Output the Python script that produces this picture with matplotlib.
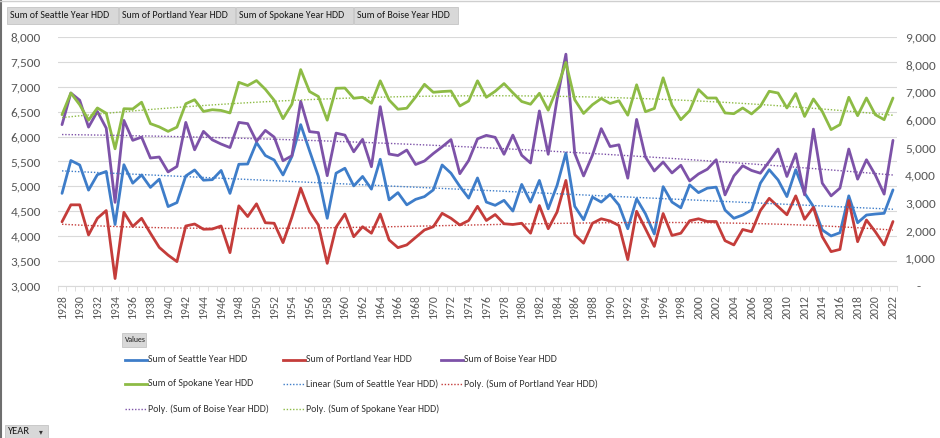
import numpy as np
import matplotlib
matplotlib.use("Agg")
import matplotlib.pyplot as plt
from matplotlib import font_manager
from matplotlib.lines import Line2D
from matplotlib.patches import Rectangle
from matplotlib.ticker import FuncFormatter, MultipleLocator

years = np.arange(1928, 2023)

seattle = [4860, 5520, 5430, 4925, 5235, 5300, 4235, 5435, 5065, 5230,
           4980, 5145, 4595, 4675, 5210, 5330, 5125, 5135, 5320, 4860,
           5445, 5450, 5880, 5620, 5530, 5230, 5600, 6240, 5715, 5200,
           4360, 5265, 5365, 5010, 5200, 4945, 5545, 4730, 4875, 4630,
           4740, 4795, 4930, 5430, 5265, 5000, 4765, 5170, 4685, 4620,
           4720, 4505, 5040, 4685, 5120, 4550, 5020, 5670, 4600, 4330,
           4785, 4685, 4840, 4625, 4150, 4750, 4450, 4045, 4995, 4685,
           4570, 5030, 4875, 4965, 4985, 4525, 4360, 4425, 4525, 5065,
           5335, 5130, 4795, 5335, 4865, 4595, 4125, 4005, 4070, 4810,
           4270, 4425, 4445, 4460, 4930]

portland = [4290, 4630, 4630, 4025, 4360, 4515, 3150, 4480, 4195, 4360,
            4060, 3775, 3620, 3490, 4205, 4245, 4140, 4145, 4205, 3670,
            4610, 4395, 4650, 4270, 4260, 3870, 4380, 4965, 4495, 4225,
            3455, 4180, 4445, 3990, 4190, 4060, 4445, 3925, 3770, 3825,
            3975, 4125, 4190, 4460, 4360, 4225, 4315, 4600, 4315, 4435,
            4250, 4235, 4260, 4060, 4615, 4150, 4485, 5120, 4030, 3860,
            4260, 4350, 4305, 4215, 3530, 4500, 4150, 3795, 4455, 4015,
            4060, 4310, 4350, 4295, 4295, 3910, 3825, 4135, 4090, 4515,
            4760, 4595, 4430, 4810, 4340, 4580, 3990, 3690, 3735, 4715,
            3890, 4325, 4090, 3825, 4295]

boise = [6240, 6875, 6730, 6190, 6505, 6170, 4680, 6325, 5925, 5990,
         5570, 5590, 5290, 5400, 6285, 5735, 6105, 5935, 5850, 5780,
         6285, 6260, 5905, 6125, 5990, 5515, 5615, 6710, 6100, 6080,
         5215, 6070, 6030, 5695, 5945, 5395, 6600, 5650, 5620, 5730,
         5440, 5510, 5660, 5795, 5940, 5255, 5520, 5955, 6025, 5985,
         5645, 6030, 5625, 5470, 6515, 5645, 6750, 7655, 5665, 5210,
         5625, 6160, 5800, 5835, 5165, 6345, 5590, 5310, 5490, 5270,
         5425, 5110, 5250, 5345, 5535, 4830, 5210, 5415, 5320, 5265,
         5500, 5750, 5200, 5655, 4830, 6150, 5065, 4810, 4965, 5750,
         5145, 5535, 5230, 4845, 5925]

spokane = [6440, 6875, 6640, 6330, 6575, 6470, 5755, 6560, 6555, 6690,
           6260, 6195, 6105, 6190, 6660, 6740, 6505, 6540, 6525, 6475,
           7090, 7025, 7125, 6950, 6730, 6360, 6650, 7345, 6905, 6805,
           6330, 6970, 6975, 6770, 6790, 6670, 7120, 6735, 6550, 6570,
           6795, 7050, 6890, 6905, 6915, 6615, 6715, 7120, 6790, 6910,
           7065, 6880, 6705, 6650, 6870, 6530, 6965, 7490, 6740, 6465,
           6640, 6765, 6665, 6720, 6430, 7040, 6500, 6565, 7180, 6630,
           6340, 6520, 6945, 6775, 6775, 6475, 6460, 6575, 6455, 6610,
           6910, 6875, 6575, 6865, 6405, 6755, 6505, 6140, 6240, 6790,
           6420, 6775, 6440, 6340, 6775]

# series order as in the pivot chart, with trendline type
cities = ["Seattle", "Portland", "Boise", "Spokane"]
values = [seattle, portland, boise, spokane]
colors = ["#3E7DC9", "#C43C3A", "#7D52A8", "#8DBB45"]
trend_order = [1, 3, 2, 2]
field_buttons = ["Seattle", "Portland", "Spokane", "Boise"]

# pick a font close to Calibri if one is around
installed = {f.name for f in font_manager.fontManager.ttflist}
FONT, K = "Lato", 0.74
for fam, k in [("Carlito", 1.0), ("Liberation Sans Narrow", 0.95)]:
    if fam in installed:
        FONT, K = fam, k
        break
plt.rcParams["font.family"] = [FONT, "DejaVu Sans"]

W, H = 940, 438
fig = plt.figure(figsize=(W / 100, H / 100), dpi=100)


def fx(px):
    return px / W


def fy(py):
    return 1 - py / H


ax = fig.add_axes([fx(57.6), fy(286), fx(897.4 - 57.6), (286 - 37) / H])

for city, vals, col in zip(cities, values, colors):
    ax.plot(years, vals, color=col, lw=2.0, solid_joinstyle="round",
            solid_capstyle="round", zorder=3)

trend_labels = []
for city, vals, col, order in zip(cities, values, colors, trend_order):
    coef = np.polyfit(years - 1975, vals, order)
    ax.plot(years, np.polyval(coef, years - 1975), color=col, lw=1.0,
            linestyle=(0, (1, 1.3)), zorder=4)
    kind = "Linear" if order == 1 else "Poly."
    trend_labels.append(f"{kind} (Sum of {city} Year HDD)")

ax.set_xlim(1927.5, 2022.5)
ax.set_ylim(3000, 8000)
ax.yaxis.set_major_locator(MultipleLocator(500))
ax.yaxis.set_major_formatter(FuncFormatter(lambda v, p: f"{v:,.0f}"))
ax.grid(axis="y", color="#D9D9D9", lw=0.8, zorder=0)
ax.set_axisbelow(True)
for s in ["top", "right", "left"]:
    ax.spines[s].set_visible(False)
ax.spines["bottom"].set_color("#D9D9D9")

ax.set_xticks(years[::2])
ax.set_xticklabels([str(y) for y in years[::2]], rotation=90)
ax.set_xticks(np.arange(1927.5, 2023, 1), minor=True)
ax.tick_params(axis="x", which="major", length=0, pad=6.5,
               labelsize=8.5 * K, labelcolor="#595959")
ax.tick_params(axis="x", which="minor", length=3.5, color="#D9D9D9")
ax.tick_params(axis="y", length=0, pad=12, labelsize=9.5 * K,
               labelcolor="#595959")

ax2 = ax.twinx()
ax2.set_ylim(0, 9000)
ax2.yaxis.set_major_locator(MultipleLocator(1000))
ax2.yaxis.set_major_formatter(
    FuncFormatter(lambda v, p: "    -" if v == 0 else f"{v:,.0f}"))
for s in ax2.spines.values():
    s.set_visible(False)
ax2.tick_params(axis="y", length=0, pad=5.5, labelsize=9.6 * K,
                labelcolor="#595959")

# frame of the pivot chart
fig.add_artist(Line2D([fx(1), fx(1)], [0, 1], color="#6E6E6E", lw=1.5))
fig.add_artist(Line2D([0, 1], [fy(0.6), fy(0.6)], color="#CFCFCF", lw=1))


def button(x0, x1, y0, y1, text, size, ty=None):
    fig.add_artist(Rectangle((fx(x0), fy(y1)), fx(x1 - x0), (y1 - y0) / H,
                             transform=fig.transFigure, facecolor="#D8D8D8",
                             edgecolor="#C4C4C4", lw=0.6))
    ty = (y0 + y1) / 2 if ty is None else ty
    fig.text(fx(x0 + 3), fy(ty), text, fontsize=size,
             va="center", ha="left", color="#1A1A1A")


bx = [7, 119, 236, 354, 459]
for i, city in enumerate(field_buttons):
    button(bx[i], bx[i + 1] - 1, 7, 24, f"Sum of {city} Year HDD", 7.1 * K)

button(122, 146, 333, 347, "Values", 5.6 * K)
button(5, 48, 425, 445, "YEAR", 7.6 * K, ty=432)
fig.text(fx(39), fy(432), "\u25be", fontsize=5.5, va="center",
         color="#333333", family="DejaVu Sans")

# legend, laid out in three equal columns like Excel
entries = [(f"Sum of {c} Year HDD", col, "-", 2.0)
           for c, col in zip(cities, colors)]
entries += [(lab, col, (0, (1, 1.3)), 1.0)
            for lab, col in zip(trend_labels, colors)]
rows_y = [360, 384, 409]
for i, (lab, col, ls, lw) in enumerate(entries):
    r, c = divmod(i, 3)
    x0 = 125 + 158 * c
    fig.add_artist(Line2D([fx(x0), fx(x0 + 22)], [fy(rows_y[r])] * 2,
                          color=col, lw=lw, linestyle=ls))
    fig.text(fx(x0 + 23), fy(rows_y[r]), lab, fontsize=7.1 * K, va="center",
             ha="left", color="#333333")

fig.savefig("out.png", dpi=100)
